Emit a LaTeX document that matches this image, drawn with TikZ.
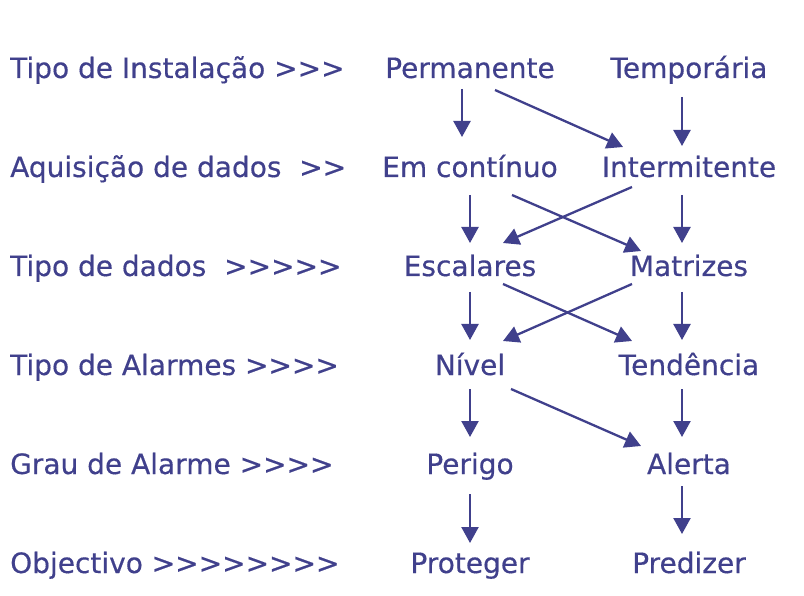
\documentclass[tikz,border=0pt]{standalone}
\usepackage{fontspec}
\setmainfont{DejaVu Sans}[Ligatures=TeXOff,FakeBold=0.4]
\usetikzlibrary{arrows.meta,calc}
\definecolor{ink}{RGB}{64,64,140}
\begin{document}
\begin{tikzpicture}[x=1pt,y=-1pt,
  lbl/.style={anchor=base west,inner sep=0pt,text=ink,font=\fontsize{28}{34}\selectfont},
  itm/.style={anchor=base,inner sep=0pt,text=ink,font=\fontsize{28}{34}\selectfont},
  arr/.style={draw=ink,line width=2.3pt,-{Triangle[length=16pt,width=17pt]}}]
\useasboundingbox[fill=white] (0,0) rectangle (804,596);
% left labels
\node[lbl] (l1) at (10,78) {Tipo de Instalação >>>};
\node[lbl] (l2) at (10,177) {Aquisição de dados\ \ >>};
\node[lbl] (l3) at (10,276) {Tipo de dados\ \ >>>>>};
\node[lbl] (l4) at (10,375) {Tipo de Alarmes >>>>};
\node[lbl] (l5) at (10,474) {Grau de Alarme >>>>};
\node[lbl] (l6) at (10,573) {Objectivo >>>>>>>>};
% items
\node[itm] (perm) at (470,78) {Permanente};
\node[itm] (temp) at (689,78) {Temporária};
\node[itm] (cont) at (470,177) {Em contínuo};
\node[itm] (inter) at (689,177) {Intermitente};
\node[itm] (esc) at (470,276) {Escalares};
\node[itm] (mat) at (689,276) {Matrizes};
\node[itm] (niv) at (470,375) {Nível};
\node[itm] (tend) at (689,375) {Tendência};
\node[itm] (per) at (470,474) {Perigo};
\node[itm] (ale) at (689,474) {Alerta};
\node[itm] (prot) at (470,573) {Proteger};
\node[itm] (pred) at (689,573) {Predizer};
% arrows
\draw[arr] ($(perm.base)+(-8,11)$) -- ($(cont.base)+(-8,-40)$);
\draw[arr] ($(perm.base)+(25,12)$) -- ($(inter.base)+(-66,-30)$);
\draw[arr] ($(temp.base)+(-7,19)$) -- ($(inter.base)+(-7,-31)$);
\draw[arr] ($(cont.base)+(0,18)$) -- ($(esc.base)+(0,-33)$);
\draw[arr] ($(cont.base)+(42,18)$) -- ($(mat.base)+(-48,-25)$);
\draw[arr] ($(inter.base)+(-57,10)$) -- ($(esc.base)+(33,-33)$);
\draw[arr] ($(inter.base)+(-7,18)$) -- ($(mat.base)+(-7,-33)$);
\draw[arr] ($(esc.base)+(0,16)$) -- ($(niv.base)+(0,-35)$);
\draw[arr] ($(esc.base)+(33,8)$) -- ($(tend.base)+(-57,-34)$);
\draw[arr] ($(mat.base)+(-57,8)$) -- ($(niv.base)+(33,-34)$);
\draw[arr] ($(mat.base)+(-7,16)$) -- ($(tend.base)+(-7,-35)$);
\draw[arr] ($(niv.base)+(0,14)$) -- ($(per.base)+(0,-37)$);
\draw[arr] ($(niv.base)+(41,14)$) -- ($(ale.base)+(-48,-28)$);
\draw[arr] ($(tend.base)+(-7,14)$) -- ($(ale.base)+(-7,-37)$);
\draw[arr] ($(per.base)+(0,20)$) -- ($(prot.base)+(0,-30)$);
\draw[arr] ($(ale.base)+(-7,12)$) -- ($(pred.base)+(-7,-39)$);
\end{tikzpicture}
\end{document}
